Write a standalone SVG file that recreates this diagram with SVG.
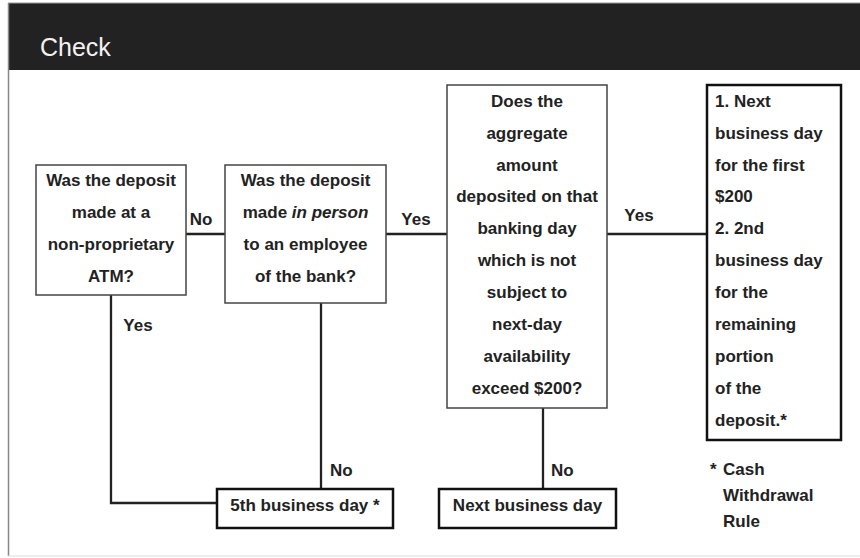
<svg xmlns="http://www.w3.org/2000/svg" width="860" height="558" viewBox="0 0 860 558">
<style>
text{font-family:"Liberation Sans",Arial,sans-serif;font-weight:bold;font-size:17px;fill:#222}
.c{text-anchor:middle}
.q{fill:#fff;stroke:#444;stroke-width:1.5}
.r{fill:#fff;stroke:#111;stroke-width:2.5}
.ln{fill:none;stroke:#222;stroke-width:2.3}
.title{font-weight:normal;font-size:25px;fill:#f2f2f2}
</style>
<rect x="0" y="0" width="860" height="558" fill="#fff"/>
<rect x="8" y="3" width="860" height="67" fill="#222"/>
<line x1="8" y1="3" x2="860" y2="3" stroke="#999" stroke-width="1"/>
<line x1="8.5" y1="3" x2="8.5" y2="556" stroke="#888" stroke-width="1.5"/>
<line x1="8" y1="556" x2="860" y2="556" stroke="#ddd" stroke-width="1"/>
<text class="title" x="40" y="56">Check</text>
<g id="connectors">
<path class="ln" d="M186,234 H225"/>
<path class="ln" d="M386,234 H447"/>
<path class="ln" d="M607,234 H707"/>
<path class="ln" d="M111,295 V503 H217"/>
<path class="ln" d="M321,303 V489"/>
<path class="ln" d="M543,408 V489"/>
<text class="c" x="201" y="225">No</text>
<text class="c" x="416" y="225">Yes</text>
<text class="c" x="639" y="221">Yes</text>
<text class="c" x="138" y="331">Yes</text>
<text x="330" y="476">No</text>
<text x="551" y="476">No</text>
</g>
<g id="atm">
<rect class="q" x="36" y="165" width="150" height="130"/>
<text class="c" x="111" y="186">Was the deposit</text>
<text class="c" x="111" y="218">made at a</text>
<text class="c" x="111" y="250">non-proprietary</text>
<text class="c" x="111" y="282">ATM?</text>
</g>
<g id="inperson">
<rect class="q" x="225" y="165" width="161" height="138"/>
<text class="c" x="305.5" y="186">Was the deposit</text>
<text class="c" x="305.5" y="218">made <tspan font-style="italic">in person</tspan></text>
<text class="c" x="305.5" y="250">to an employee</text>
<text class="c" x="305.5" y="282">of the bank?</text>
</g>
<g id="aggregate">
<rect class="q" x="447" y="85" width="160" height="323"/>
<text class="c" x="527" y="107">Does the</text>
<text class="c" x="527" y="139">aggregate</text>
<text class="c" x="527" y="171">amount</text>
<text class="c" x="527" y="202">deposited on that</text>
<text class="c" x="527" y="234">banking day</text>
<text class="c" x="527" y="266">which is not</text>
<text class="c" x="527" y="298">subject to</text>
<text class="c" x="527" y="330">next-day</text>
<text class="c" x="527" y="362">availability</text>
<text class="c" x="527" y="394">exceed $200?</text>
</g>
<g id="nextday200">
<rect class="r" x="707" y="85" width="134" height="355"/>
<text x="715" y="107">1. Next</text>
<text x="715" y="139">business day</text>
<text x="715" y="171">for the first</text>
<text x="715" y="202">$200</text>
<text x="715" y="234">2. 2nd</text>
<text x="715" y="266">business day</text>
<text x="715" y="298">for the</text>
<text x="715" y="330">remaining</text>
<text x="715" y="362">portion</text>
<text x="715" y="394">of the</text>
<text x="715" y="426">deposit.*</text>
</g>
<g id="fifth">
<rect class="r" x="217" y="489" width="176" height="39"/>
<text class="c" x="305" y="511">5th business day *</text>
</g>
<g id="nextbusiness">
<rect class="r" x="439" y="489" width="177" height="39"/>
<text class="c" x="527.5" y="511">Next business day</text>
</g>
<g id="footnote">
<text x="710" y="475">*</text>
<text x="723" y="475">Cash</text>
<text x="723" y="501">Withdrawal</text>
<text x="723" y="527">Rule</text>
</g>
</svg>
